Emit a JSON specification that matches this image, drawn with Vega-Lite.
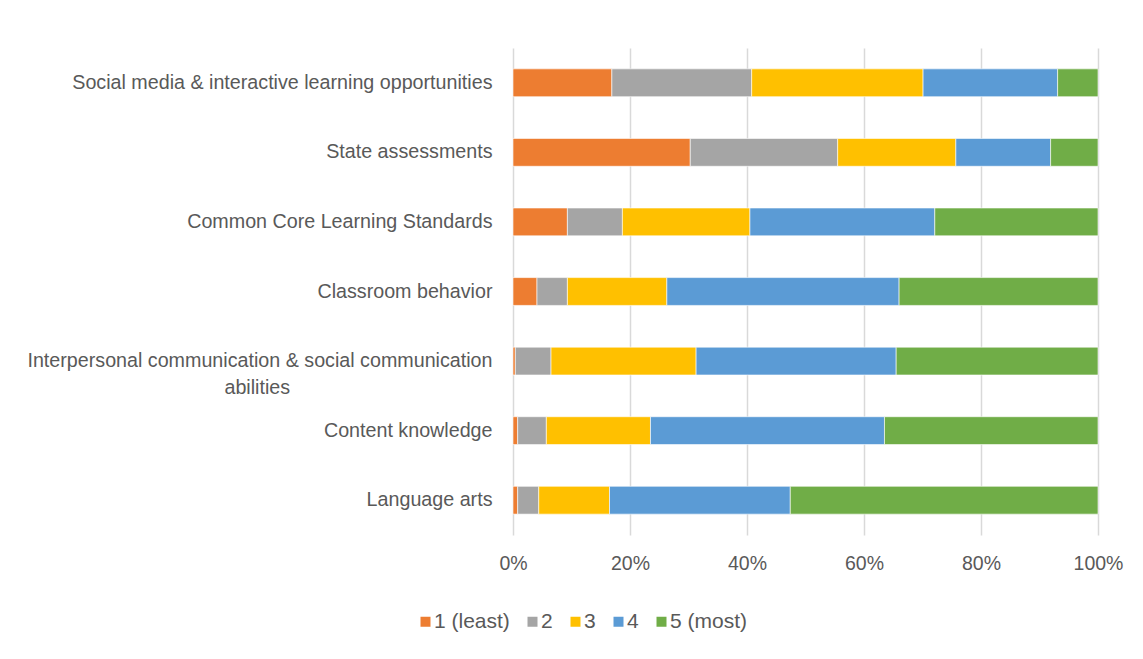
{
  "$schema": "https://vega.github.io/schema/vega-lite/v6.json",
  "width": 585,
  "height": 487,
  "autosize": "none",
  "padding": {"left": 513, "top": 48, "right": 45, "bottom": 124},
  "background": "white",
  "data": {
    "values": [
      {"item": "Social media & interactive learning opportunities", "rating": "1 (least)", "pct": 16.9},
      {"item": "Social media & interactive learning opportunities", "rating": "2", "pct": 23.9},
      {"item": "Social media & interactive learning opportunities", "rating": "3", "pct": 29.3},
      {"item": "Social media & interactive learning opportunities", "rating": "4", "pct": 23.0},
      {"item": "Social media & interactive learning opportunities", "rating": "5 (most)", "pct": 6.9},
      {"item": "State assessments", "rating": "1 (least)", "pct": 30.3},
      {"item": "State assessments", "rating": "2", "pct": 25.2},
      {"item": "State assessments", "rating": "3", "pct": 20.2},
      {"item": "State assessments", "rating": "4", "pct": 16.2},
      {"item": "State assessments", "rating": "5 (most)", "pct": 8.1},
      {"item": "Common Core Learning Standards", "rating": "1 (least)", "pct": 9.3},
      {"item": "Common Core Learning Standards", "rating": "2", "pct": 9.4},
      {"item": "Common Core Learning Standards", "rating": "3", "pct": 21.8},
      {"item": "Common Core Learning Standards", "rating": "4", "pct": 31.6},
      {"item": "Common Core Learning Standards", "rating": "5 (most)", "pct": 27.9},
      {"item": "Classroom behavior", "rating": "1 (least)", "pct": 4.1},
      {"item": "Classroom behavior", "rating": "2", "pct": 5.2},
      {"item": "Classroom behavior", "rating": "3", "pct": 17.0},
      {"item": "Classroom behavior", "rating": "4", "pct": 39.7},
      {"item": "Classroom behavior", "rating": "5 (most)", "pct": 34.0},
      {"item": "Interpersonal communication & social communication abilities", "rating": "1 (least)", "pct": 0.4},
      {"item": "Interpersonal communication & social communication abilities", "rating": "2", "pct": 6.1},
      {"item": "Interpersonal communication & social communication abilities", "rating": "3", "pct": 24.8},
      {"item": "Interpersonal communication & social communication abilities", "rating": "4", "pct": 34.2},
      {"item": "Interpersonal communication & social communication abilities", "rating": "5 (most)", "pct": 34.5},
      {"item": "Content knowledge", "rating": "1 (least)", "pct": 0.8},
      {"item": "Content knowledge", "rating": "2", "pct": 4.9},
      {"item": "Content knowledge", "rating": "3", "pct": 17.8},
      {"item": "Content knowledge", "rating": "4", "pct": 40.0},
      {"item": "Content knowledge", "rating": "5 (most)", "pct": 36.5},
      {"item": "Language arts", "rating": "1 (least)", "pct": 0.8},
      {"item": "Language arts", "rating": "2", "pct": 3.6},
      {"item": "Language arts", "rating": "3", "pct": 12.1},
      {"item": "Language arts", "rating": "4", "pct": 30.9},
      {"item": "Language arts", "rating": "5 (most)", "pct": 52.6}
    ]
  },
  "mark": {"type": "bar", "stroke": "white", "strokeWidth": 0.6},
  "encoding": {
    "y": {
      "field": "item",
      "type": "nominal",
      "sort": null,
      "scale": {"paddingInner": 0.6, "paddingOuter": 0.3},
      "axis": {
        "title": null,
        "ticks": false,
        "domain": false,
        "grid": false,
        "labelFont": "Liberation Sans",
        "labelFontSize": 19.7,
        "labelColor": "#595959",
        "labelPadding": 21,
        "labelLimit": 600,
        "labelLineHeight": 27,
        "labelExpr": "datum.label == 'Interpersonal communication & social communication abilities' ? ['Interpersonal communication & social communication', 'abilities\u00a0\u00a0\u00a0\u00a0\u00a0\u00a0\u00a0\u00a0\u00a0\u00a0\u00a0\u00a0\u00a0\u00a0\u00a0\u00a0\u00a0\u00a0\u00a0\u00a0\u00a0\u00a0\u00a0\u00a0\u00a0\u00a0\u00a0\u00a0\u00a0\u00a0\u00a0\u00a0\u00a0\u00a0\u00a0\u00a0\u00a0\u200b'] : datum.label"
      }
    },
    "x": {
      "field": "pct",
      "type": "quantitative",
      "stack": "normalize",
      "scale": {"domain": [0, 1], "nice": false},
      "axis": {
        "title": null,
        "values": [0, 0.2, 0.4, 0.6, 0.8, 1],
        "format": ".0%",
        "ticks": false,
        "domain": false,
        "grid": true,
        "gridColor": "#D9D9D9",
        "gridWidth": 1.5,
        "labelFlush": false,
        "labelFont": "Liberation Sans",
        "labelFontSize": 19.5,
        "labelColor": "#595959",
        "labelPadding": 19
      }
    },
    "color": {
      "field": "rating",
      "type": "nominal",
      "scale": {
        "domain": ["1 (least)", "2", "3", "4", "5 (most)"],
        "range": ["#ED7D31", "#A5A5A5", "#FFC000", "#5B9BD5", "#70AD47"]
      },
      "legend": {
        "title": null,
        "orient": "none",
        "direction": "horizontal",
        "legendX": -98,
        "legendY": 563,
        "symbolType": "square",
        "symbolSize": 100,
        "symbolStrokeWidth": 0,
        "labelFont": "Liberation Sans",
        "labelFontSize": 21,
        "labelColor": "#595959",
        "labelOffset": -2,
        "columnPadding": 12
      }
    },
    "order": {"field": "rating", "sort": "ascending"}
  },
  "config": {"view": {"stroke": null}}
}
